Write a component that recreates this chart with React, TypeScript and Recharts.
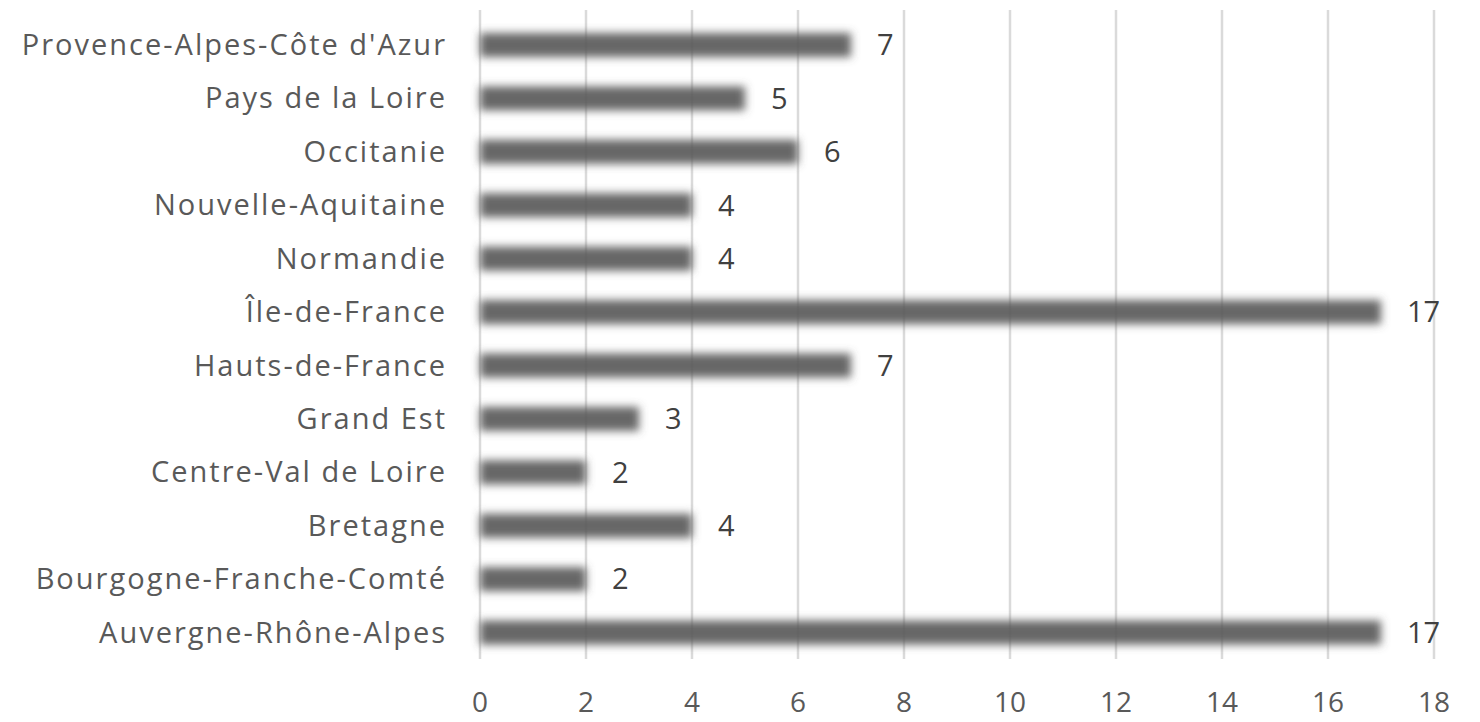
import { BarChart, Bar, XAxis, YAxis, CartesianGrid, LabelList } from 'recharts';

// regions listed top to bottom, as they appear on the chart
const regions = [
  'Provence-Alpes-Côte d\'Azur',
  'Pays de la Loire',
  'Occitanie',
  'Nouvelle-Aquitaine',
  'Normandie',
  'Île-de-France',
  'Hauts-de-France',
  'Grand Est',
  'Centre-Val de Loire',
  'Bretagne',
  'Bourgogne-Franche-Comté',
  'Auvergne-Rhône-Alpes',
];
const counts = [7, 5, 6, 4, 4, 17, 7, 3, 2, 4, 2, 17];
const xTicks = [0, 2, 4, 6, 8, 10, 12, 14, 16, 18];

const data = regions.map((name, i) => ({ name, count: counts[i] }));

const FONT = '"Open Sans", sans-serif';

// soft-edged bar
const SoftBar = (props: any) => {
  const { x, y, width, height } = props;
  return <rect x={x} y={y} width={width} height={height} fill="#5a5a5a" fillOpacity={0.92} filter="url(#barBlur)" />;
};

export default function App() {
  return (
    <div style={{ position: 'absolute', left: 0, top: 0, width: 1480, height: 722, background: '#fff' }}>
      <BarChart
        width={1480}
        height={722}
        data={data}
        layout="vertical"
        margin={{ top: 10, right: 46, left: 0, bottom: 0 }}
        barSize={24}
      >
        <defs>
          <filter id="barBlur" x="-30%" y="-100%" width="160%" height="300%">
            <feGaussianBlur stdDeviation="4.5" />
          </filter>
        </defs>
        <XAxis
          type="number"
          domain={[0, 18]}
          ticks={xTicks}
          axisLine={false}
          tickLine={false}
          tickSize={0}
          tickMargin={33}
          height={63}
          tick={{ fill: '#595959', fontSize: 28, fontFamily: FONT }}
        />
        <YAxis
          type="category"
          dataKey="name"
          width={480}
          axisLine={false}
          tickLine={false}
          tickSize={0}
          tickMargin={33}
          padding={{ top: 8, bottom: 0 }}
          interval={0}
          tick={{ fill: '#595959', fontSize: 29, fontFamily: FONT, letterSpacing: 2 }}
        />
        <Bar dataKey="count" shape={SoftBar} isAnimationActive={false}>
          <LabelList dataKey="count" position="right" offset={26} fill="#404040" fontSize={29} fontFamily={FONT} />
        </Bar>
        <CartesianGrid horizontal={false} stroke="#d6d6d6" strokeWidth={2.5} strokeOpacity={0.9} />
      </BarChart>
    </div>
  );
}
